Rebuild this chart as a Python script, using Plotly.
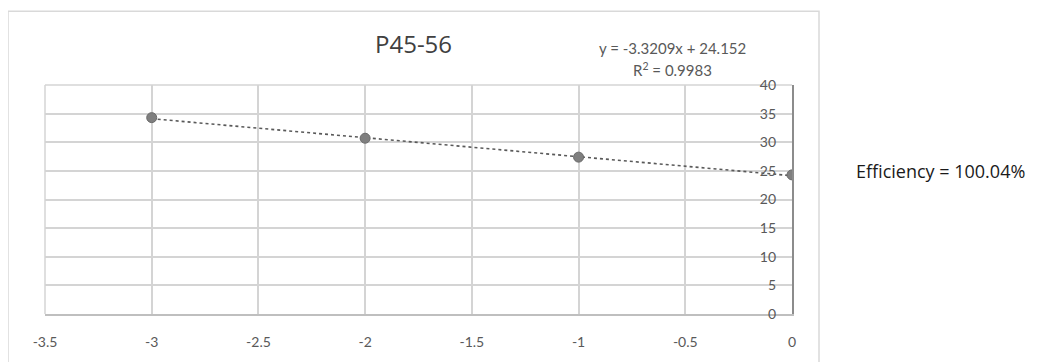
import plotly.graph_objects as go

# Data
log_dilution = [-3, -2, -1, 0]
ct_values = [34.3, 30.7, 27.4, 24.3]
slope = -3.3209
intercept = 24.152
r_squared = 0.9983
efficiency_text = "Efficiency = 100.04%"
chart_title = "P45-56"
x_ticks = [-3.5, -3, -2.5, -2, -1.5, -1, -0.5, 0]
y_ticks = [0, 5, 10, 15, 20, 25, 30, 35, 40]

trend_x = [min(log_dilution), max(log_dilution)]
trend_y = [slope * v + intercept for v in trend_x]

OFF = 8  # page body margin
W, H = 1040 - OFF, 362 - OFF
L, R, T, B = 45 - OFF, 792 - OFF, 85 - OFF, 318 - OFF  # plot area in px


def px(x):
    return (x - OFF - L) / (R - L)


def py(y):
    return (B - (y - OFF)) / (B - T)


fig = go.Figure()
fig.add_trace(go.Scatter(
    x=trend_x, y=trend_y, mode="lines",
    line=dict(color="#595959", width=1.6, dash="dot"),
    hoverinfo="skip", showlegend=False,
))
fig.add_trace(go.Scatter(
    x=log_dilution, y=ct_values, mode="markers",
    marker=dict(size=10, color="#7f7f7f", line=dict(color="#6b6b6b", width=1)),
    showlegend=False,
))

tick_font = dict(family="Lato, Liberation Sans, sans-serif", size=14, color="#595959")

fig.update_layout(
    width=W, height=H,
    margin=dict(l=L, r=W - R, t=T, b=H - B, pad=0),
    paper_bgcolor="white", plot_bgcolor="white",
    xaxis=dict(
        range=[-3.5, 0], tickvals=x_ticks,
        ticktext=[f"{v:g}" for v in x_ticks],
        showgrid=True, gridcolor="#d4d4d4", gridwidth=1.5,
        zeroline=False, showline=True, linecolor="#bfbfbf", linewidth=1.5,
        ticks="", ticklabelstandoff=14, tickfont=tick_font,
        ticklabeloverflow="allow",
    ),
    yaxis=dict(
        range=[0, 40], tickvals=y_ticks, side="right",
        ticklabelposition="inside",
        showgrid=True, gridcolor="#d4d4d4", gridwidth=1.5,
        zeroline=False, showline=True, linecolor="#8c8c8c", linewidth=1.5,
        ticks="", ticklabelstandoff=16, tickfont=tick_font,
        ticklabeloverflow="allow",
    ),
    shapes=[
        dict(type="rect", xref="paper", yref="paper",
             x0=px(8), x1=px(819), y0=py(375), y1=py(10),
             line=dict(color="#d9d9d9", width=1.5), layer="below"),
        dict(type="line", xref="paper", yref="paper",
             x0=0, x1=0, y0=0, y1=1,
             line=dict(color="#d4d4d4", width=1.5), layer="below"),
        dict(type="line", xref="paper", yref="paper",
             x0=0, x1=1, y0=1, y1=1,
             line=dict(color="#d4d4d4", width=1.5), layer="below"),
    ],
    annotations=[
        dict(text=chart_title, xref="paper", yref="paper",
             x=px(413), y=py(43), xanchor="center", yanchor="middle",
             showarrow=False,
             font=dict(family="Open Sans, Noto Sans, sans-serif", size=24, color="#404040")),
        dict(text=f"y = {slope}x + {intercept}", xref="paper", yref="paper",
             x=px(672), y=py(47), xanchor="center", yanchor="middle",
             showarrow=False,
             font=dict(family="Lato, Liberation Sans, sans-serif", size=15, color="#595959")),
        dict(text=f"R<sup>2</sup> = {r_squared}", xref="paper", yref="paper",
             x=px(672), y=py(69), xanchor="center", yanchor="middle",
             showarrow=False,
             font=dict(family="Lato, Liberation Sans, sans-serif", size=15, color="#595959")),
        dict(text=efficiency_text, xref="paper", yref="paper",
             x=px(854), y=py(172), xanchor="left", yanchor="middle",
             showarrow=False,
             font=dict(family="Open Sans, Noto Sans, sans-serif", size=18, color="#1a1a1a")),
    ],
)

fig.write_html("out.html")
